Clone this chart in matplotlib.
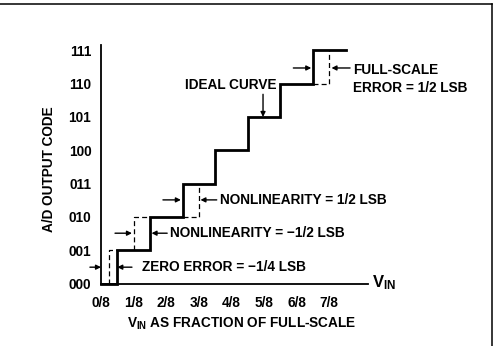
import matplotlib
matplotlib.use("Agg")
import matplotlib.pyplot as plt
from matplotlib.lines import Line2D

plt.rcParams['font.family'] = ['Liberation Sans', 'DejaVu Sans']
plt.rcParams['font.weight'] = 'bold'
plt.rcParams['mathtext.fontset'] = 'custom'
plt.rcParams['mathtext.rm'] = 'Liberation Sans:bold'
plt.rcParams['mathtext.bf'] = 'Liberation Sans:bold'
plt.rcParams['mathtext.it'] = 'Liberation Sans:bold'

FS = 9.8

# Output codes and input fractions (in units of 1/8 full scale)
codes = ['000', '001', '010', '011', '100', '101', '110', '111']
x_ticks = [0, 1, 2, 3, 4, 5, 6, 7]
x_ticklabels = ['0/8', '1/8', '2/8', '3/8', '4/8', '5/8', '6/8', '7/8']

# Ideal transfer curve: transition points and resulting code
ideal_x = [0, 0.5, 1.5, 2.5, 3.5, 4.5, 5.5, 6.5, 7.5]
ideal_code = [0, 1, 2, 3, 4, 5, 6, 7, 7]

# Error examples (dashed): transition location and code before/after
zero_err_x = [0.25, 0.25, 0.5]
zero_err_y = [0, 1, 1]
nonlin_neg_x = [1.0, 1.0, 1.5]
nonlin_neg_y = [1, 2, 2]
nonlin_pos_x = [2.5, 3.0, 3.0]
nonlin_pos_y = [2, 2, 3]
fullscale_x = [6.5, 7.0, 7.0]
fullscale_y = [6, 6, 7]

fig = plt.figure(figsize=(4.97, 3.46), dpi=100)
ax = fig.add_axes([101 / 497, 62.5 / 346, 267 / 497, 238.5 / 346])
ax.set_xlim(0, 8.19)
ax.set_ylim(0, 7.16)
for s in ('top', 'right'):
    ax.spines[s].set_visible(False)
for s in ('left', 'bottom'):
    ax.spines[s].set_linewidth(1.3)
ax.set_yticks(range(len(codes)))
ax.set_yticklabels(codes)
ax.set_xticks(x_ticks)
ax.set_xticklabels(x_ticklabels)
ax.tick_params(axis='both', length=0, labelsize=FS)
ax.tick_params(axis='y', pad=7)
ax.tick_params(axis='x', pad=9)
for lab in ax.get_xticklabels() + ax.get_yticklabels():
    lab.set_fontweight('bold')

ax.step(ideal_x, ideal_code, where='post', color='black', lw=2.0,
        solid_joinstyle='miter', clip_on=False)

dash_kw = dict(color='black', lw=0.9, ls=(0, (4, 2.5)), clip_on=False)
ax.plot(zero_err_x, zero_err_y, **dash_kw)
ax.plot(nonlin_neg_x, nonlin_neg_y, **dash_kw)
ax.plot(nonlin_pos_x, nonlin_pos_y, **dash_kw)
ax.plot(fullscale_x, fullscale_y, **dash_kw)

arrow_kw = dict(arrowstyle='-|>', color='black', lw=1.0, mutation_scale=7,
                shrinkA=0, shrinkB=0)


def arrow(x0, x1, y):
    ax.annotate('', xy=(x1, y), xytext=(x0, y), arrowprops=arrow_kw,
                annotation_clip=False)


# Dimension arrows marking each error
arrow(-0.34, 0.0, 0.49)
arrow(0.95, 0.5, 0.49)
arrow(0.43, 0.95, 1.51)
arrow(2.03, 1.55, 1.51)
arrow(1.9, 2.45, 2.51)
arrow(3.55, 3.05, 2.51)
arrow(5.9, 6.45, 6.47)
arrow(7.64, 7.07, 6.47)

tkw = dict(fontsize=FS, fontweight='bold', va='center', ha='left')
ax.text(1.25, 0.49, 'ZERO ERROR = \u22121/4 LSB', **tkw)
ax.text(2.13, 1.51, 'NONLINEARITY = \u22121/2 LSB', **tkw)
ax.text(3.65, 2.51, 'NONLINEARITY = 1/2 LSB', **tkw)
ax.text(7.73, 6.4, 'FULL-SCALE', **tkw)
ax.text(7.73, 5.88, 'ERROR = 1/2 LSB', **tkw)

ax.text(5.37, 5.96, 'IDEAL CURVE', fontsize=FS, fontweight='bold',
        va='center', ha='right')
ax.annotate('', xy=(4.97, 5.0), xytext=(4.97, 5.68), arrowprops=arrow_kw,
            annotation_clip=False)

ax.text(8.3, 0.02, r'$\mathregular{V_{IN}}$', fontsize=12, fontweight='bold',
        va='center', ha='left')

ax.set_ylabel('A/D OUTPUT CODE', fontsize=FS, fontweight='bold')
ax.yaxis.set_label_coords(-0.167, 0.48)
ax.set_xlabel(r'$\mathregular{V_{IN}}$ AS FRACTION OF FULL-SCALE', fontsize=FS,
              fontweight='bold')
ax.xaxis.set_label_coords(0.528, -0.134)

# Page frame lines
fig.add_artist(Line2D([0, 492 / 497], [1 - 4 / 346, 1 - 4 / 346],
                      transform=fig.transFigure, color='black', lw=1.1))
fig.add_artist(Line2D([492 / 497, 492 / 497], [0, 1 - 4 / 346],
                      transform=fig.transFigure, color='black', lw=1.1))

fig.savefig('out.png', dpi=100)
